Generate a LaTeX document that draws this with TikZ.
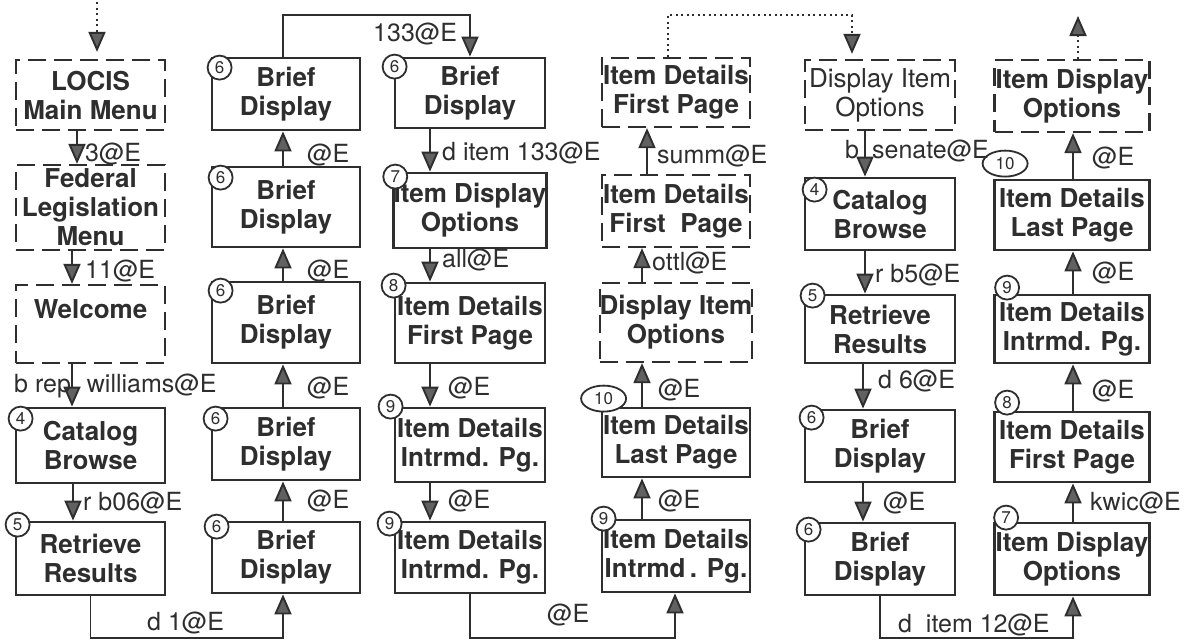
\documentclass[tikz,border=0pt]{standalone}
\usepackage{fontspec}
\setmainfont{TeX Gyre Heros}
\usetikzlibrary{arrows.meta,shapes.geometric}
\definecolor{ink}{gray}{0.18}
\definecolor{headc}{gray}{0.38}
\begin{document}
\begin{tikzpicture}[x=1pt,y=-1pt,
  box/.style={draw=ink,line width=2.8pt,inner sep=0pt,align=center,text=ink,
    font=\fontsize{26}{29}\selectfont\bfseries},
  dbox/.style={box,line width=2.3pt,dash pattern=on 18pt off 8pt},
  sz/.style 2 args={minimum width=#1pt,minimum height=#2pt},
  num/.style={circle,draw=ink,fill=white,line width=1.8pt,minimum size=24pt,inner sep=0pt,
    text=ink,font=\fontsize{17}{17}\selectfont},
  enum/.style={ellipse,draw=ink,fill=white,line width=1.8pt,minimum width=45pt,
    minimum height=26pt,inner sep=0pt,text=ink,font=\fontsize{17}{17}\selectfont},
  lab/.style={inner sep=0pt,anchor=base west,text=ink,font=\fontsize{25}{28}\selectfont},
  arr/.style={draw=ink,line width=1.9pt,-{Triangle[width=17pt,length=20pt,fill=headc]}},
  darr/.style={arr,dash pattern=on 2pt off 3.5pt},
]
\fill[white] (0,0) rectangle (1186,641);
\useasboundingbox (0,0) rectangle (1186,641);

% ---- column A
\node[dbox,sz={149}{70}] (A1) at (90.5,95) {LOCIS\\Main Menu};
\node[dbox,sz={149}{85}] (A2) at (90.5,207.5) {Federal\\Legislation\\Menu};
\node[dbox,sz={149}{78}] (A3) at (90.5,324) {Welcome\\\phantom{W}};
\node[box,sz={149}{75}] (A4) at (90.5,445.5) {Catalog\\Browse};
\node[box,sz={149}{73}] (A5) at (90.5,558.5) {Retrieve\\Results};
% ---- column B
\node[box,sz={148}{72}] (B1) at (286,94) {Brief\\Display};
\node[box,sz={148}{80}] (B2) at (286,207) {Brief\\Display};
\node[box,sz={148}{81}] (B3) at (286,322.5) {Brief\\Display};
\node[box,sz={148}{72}] (B4) at (286,444) {Brief\\Display};
\node[box,sz={148}{71}] (B5) at (286,557.5) {Brief\\Display};
% ---- column C
\node[box,sz={150}{70}] (C1) at (470,93) {Brief\\Display};
\node[box,sz={150}{75}] (C2) at (470,210.5) {Item Display\\Options};
\node[box,sz={150}{80}] (C3) at (470,323) {Item Details\\First Page};
\node[box,sz={150}{74}] (C4) at (470,445) {Item Details\\Intrmd. Pg.};
\node[box,sz={150}{71}] (C5) at (470,557.5) {Item Details\\Intrmd. Pg.};
% ---- column D
\node[dbox,sz={148}{69}] (D1) at (676,92.5) {Item Details\\First Page};
\node[dbox,sz={148}{72}] (D2) at (676,211) {Item Details\\First\ \ Page};
\node[dbox,sz={148}{79}] (D3) at (676,322.5) {Display Item\\Options};
\node[box,sz={148}{69}] (D4) at (676,442.5) {Item Details\\Last Page};
\node[box,sz={148}{72}] (D5) at (676,556) {Item Details\\Intrmd\,. Pg.};
% ---- column E
\node[dbox,sz={150}{70},font=\fontsize{26}{29}\selectfont\mdseries] (E1) at (880,95) {Display Item\\Options};
\node[box,sz={150}{72}] (E2) at (880,214) {Catalog\\Browse};
\node[box,sz={150}{68}] (E3) at (880,329) {Retrieve\\Results};
\node[box,sz={150}{72}] (E4) at (880,446) {Brief\\Display};
\node[box,sz={150}{72}] (E5) at (880,559) {Brief\\Display};
% ---- column F
\node[dbox,sz={155}{72}] (F1) at (1072,96) {Item Display\\Options};
\node[box,sz={155}{70}] (F2) at (1072,215) {Item Details\\Last Page};
\node[box,sz={155}{68}] (F3) at (1072,329) {Item Details\\Intrmd. Pg.};
\node[box,sz={155}{70}] (F4) at (1072,447) {Item Details\\First Page};
\node[box,sz={155}{72}] (F5) at (1072,559) {Item Display\\Options};

% ---- numbers (shift: x right, y down)
\node[num] (nA4) at ([shift={(6,12)}]A4.north west) {4};
\node[num] (nA5) at ([shift={(3,4)}]A5.north west) {5};
\node[num] (nB1) at ([shift={(9,11)}]B1.north west) {6};
\node[num] (nB2) at ([shift={(10,12)}]B2.north west) {6};
\node[num] (nB3) at ([shift={(10,10)}]B3.north west) {6};
\node[num] (nB4) at ([shift={(5,12)}]B4.north west) {6};
\node[num] (nB5) at ([shift={(6,6)}]B5.north west) {6};
\node[num] (nC1) at ([shift={(1,10)}]C1.north west) {6};
\node[num] (nC2) at ([shift={(3,5)}]C2.north west) {7};
\node[num] (nC3) at ([shift={(0,4)}]C3.north west) {8};
\node[num] (nC4) at ([shift={(-3,0)}]C4.north west) {9};
\node[num] (nC5) at ([shift={(-4,3)}]C5.north west) {9};
\node[enum] (nD4) at ([shift={(3,-8)}]D4.north west) {10};
\node[num] (nD5) at ([shift={(3,0)}]D5.north west) {9};
\node[num] (nE2) at ([shift={(11,13)}]E2.north west) {4};
\node[num] (nE3) at ([shift={(9,2)}]E3.north west) {5};
\node[num] (nE4) at ([shift={(8,9)}]E4.north west) {6};
\node[num] (nE5) at ([shift={(5,8)}]E5.north west) {6};
\node[enum] (nF2) at ([shift={(12,-15)}]F2.north west) {10};
\node[num] (nF3) at ([shift={(14,-6)}]F3.north west) {9};
\node[num] (nF4) at ([shift={(14,-8)}]F4.north west) {8};
\node[num] (nF5) at ([shift={(13,-4)}]F5.north west) {7};

% ---- helper coordinates
\coordinate (ytop) at (0,15);
\coordinate (ybot) at (0,638);
\coordinate (startA) at (97,2);
\coordinate (endF) at (1078,16);

% ---- connectors column A
\draw[darr,shorten >=7pt] (startA) -- (startA |- A1.north);
\draw[arr] ([xshift=-13.5pt]A1.south) -- ([xshift=-13.5pt]A2.north);
\draw[arr] ([xshift=-18.5pt]A2.south) -- ([xshift=-18.5pt]A3.north);
\draw[arr] ([xshift=-18.5pt]A3.south) -- ([xshift=-18.5pt]A4.north);
\draw[arr] ([xshift=-17.5pt]A4.south) -- ([xshift=-17.5pt]A5.north);
\draw[arr] (A5.south) -- (A5.south |- ybot) -| ([xshift=-3pt]B5.south);
% column B
\draw[arr] ([xshift=-3pt]B5.north) -- ([xshift=-3pt]B4.south);
\draw[arr] ([xshift=-3pt]B4.north) -- ([xshift=-3pt]B3.south);
\draw[arr] ([xshift=-3pt]B3.north) -- ([xshift=-3pt]B2.south);
\draw[arr] ([xshift=-3pt]B2.north) -- ([xshift=-3pt]B1.south);
\draw[arr] ([xshift=-3pt]B1.north) -- ([xshift=-3pt]B1.north |- ytop) -| (C1.north);
% column C
\draw[arr] ([xshift=-40pt]C1.south) -- ([xshift=-40pt]C2.north);
\draw[arr] ([xshift=-40pt]C2.south) -- ([xshift=-40pt]C3.north);
\draw[arr] ([xshift=-40pt]C3.south) -- ([xshift=-40pt]C4.north);
\draw[arr] ([xshift=-40pt]C4.south) -- ([xshift=-40pt]C5.north);
\draw[arr] (C5.south) -- (C5.south |- ybot) -| ([xshift=-1pt]D5.south);
% column D
\draw[arr] ([xshift=-34pt]D5.north) -- ([xshift=-34pt]D4.south);
\draw[arr] ([xshift=-34pt]D4.north) -- ([xshift=-34pt]D3.south);
\draw[arr] ([xshift=-34pt]D3.north) -- ([xshift=-34pt]D2.south);
\draw[arr] ([xshift=-29pt]D2.north) -- ([xshift=-29pt]D1.south);
\draw[darr,shorten >=5pt] ([xshift=-8pt]D1.north) -- ([xshift=-8pt]D1.north |- ytop) -| ([xshift=-28pt]E1.north);
% column E
\draw[arr] ([xshift=-15pt]E1.south) -- ([xshift=-15pt]E2.north);
\draw[arr] ([xshift=-15pt]E2.south) -- ([xshift=-15pt]E3.north);
\draw[arr] ([xshift=-17pt]E3.south) -- ([xshift=-17pt]E4.north);
\draw[arr] ([xshift=-17pt]E4.south) -- ([xshift=-17pt]E5.north);
\draw[arr] (E5.south) -- (E5.south |- ybot) -| ([xshift=1pt]F5.south);
% column F
\draw[arr] ([xshift=1pt]F5.north) -- ([xshift=1pt]F4.south);
\draw[arr] ([xshift=1pt]F4.north) -- ([xshift=1pt]F3.south);
\draw[arr] ([xshift=1pt]F3.north) -- ([xshift=1pt]F2.south);
\draw[arr] ([xshift=1pt]F2.north) -- ([xshift=1pt]F1.south);
\draw[darr] ([xshift=6pt]F1.north) -- (endF);

% ---- labels
\node[lab] (l1) at (85,161) {3@E};
\node[lab] (l2) at (85,278) {11@E};
\node[lab] (l3) at (14,392) {b rep\hspace{16pt}williams@E};
\node[lab] (l4) at (83,510) {r b06@E};
\node[lab] (l5) at (147,630) {d 1@E};
\node[lab] (l6) at (307,162) {@E};
\node[lab] (l7) at (307,278) {@E};
\node[lab] (l8) at (307,395) {@E};
\node[lab] (l9) at (307,508) {@E};
\node[lab] (l10) at (373,41) {133@E};
\node[lab] (l11) at (442,160) {d item 133@E};
\node[lab] (l12) at (442,267) {all@E};
\node[lab] (l13) at (448,395) {@E};
\node[lab] (l14) at (448,508) {@E};
\node[lab] (l15) at (547,622) {@E};
\node[lab] (l16) at (658,508) {@E};
\node[lab] (l17) at (658,397) {@E};
\node[lab] (l18) at (652,270) {ottl@E};
\node[lab] (l19) at (657,163) {summ@E};
\node[lab] (l20) at (845,158) {b\hspace{13pt}senate@E};
\node[lab] (l21) at (875,282) {r b5@E};
\node[lab] (l22) at (878,388) {d 6@E};
\node[lab] (l23) at (883,510) {@E};
\node[lab] (l24) at (898,632) {d\ \ item 12@E};
\node[lab] (l25) at (1090,510) {kwic@E};
\node[lab] (l26) at (1092,398) {@E};
\node[lab] (l27) at (1092,280) {@E};
\node[lab] (l28) at (1092,165) {@E};
\end{tikzpicture}
\end{document}
